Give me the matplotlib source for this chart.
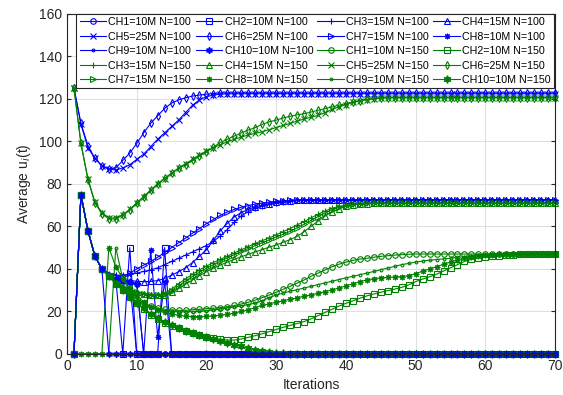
import matplotlib
matplotlib.use("Agg")
import matplotlib.pyplot as plt
import numpy as np

plt.rcParams['font.family'] = ['Liberation Sans', 'DejaVu Sans']

# Average u_i(t) per channel, iterations 1..70
# N = 100 (blue)
ch1_100 = [0, 75, 58, 46, 40, 36.5, 35, 34.5, 34, 33] + [0] * 60
ch2_100 = [0, 75, 58, 46, 40, 36.5, 35, 0, 50, 0, 0, 0, 0, 50, 0] + [0] * 55
ch3_100 = [0, 75, 58, 46, 40, 37.5, 37, 37, 37.5, 38,
           38.8, 39.5, 40.5, 42, 43.5, 45, 46.5, 48, 49.5, 51,
           53, 55.5, 58.5, 62, 65, 67, 68.5, 69.5, 70.3, 71,
           71.5, 71.9, 72.2] + [72.5] * 37
ch4_100 = [0, 75, 58, 46, 40, 37, 35.5, 35, 34.5, 34.2,
           34, 34.1, 34.5, 35.5, 37, 38.7, 40.5, 43, 46, 49,
           53.5, 58, 61.5, 64.5, 66.5, 68, 69.2, 70, 70.7, 71.3,
           71.8, 72.1, 72.3] + [72.5] * 37
ch5_100 = [125, 108, 97, 92, 88.5, 87, 86.5, 87.5, 89, 91.5,
           94, 97.5, 101, 104, 107, 110, 113.5, 117, 119.5, 121,
           121.8, 122.2] + [122.4] * 48
ch6_100 = [125, 108.5, 98, 92, 88.5, 87, 87.5, 91, 94.5, 99,
           104, 108.5, 112, 115.5, 118, 119.5, 120.5, 121.3, 121.8, 122.2,
           122.5] + [122.8] * 49
ch7_100 = [0, 75, 58, 46, 40, 37.5, 36.8, 36.6, 38, 40,
           41.8, 43.5, 45.5, 47.8, 50, 52.3, 54.5, 56.8, 59, 61.3,
           63.3, 65.2, 66.8, 68, 69, 69.8, 70.5, 71, 71.4, 71.8,
           72.1, 72.3] + [72.5] * 38
ch8_100 = [0, 75, 58, 46, 40, 36.5, 35, 34.5, 34, 33, 0, 49, 8, 34, 0] + [0] * 55
ch9_100 = [0, 75, 58, 46, 40, 36.5, 35, 34.5, 34] + [0] * 61
ch10_100 = [0, 75, 58, 46, 40] + [0] * 65

# N = 150 (green)
ch1_150 = [0, 75, 58, 46, 40, 36.5, 33, 30, 28, 26,
           24, 22.5, 21.5, 21, 20.7, 20.5, 20.5, 20.8, 21, 21.3,
           21.5, 21.8, 22.2, 22.8, 23.5, 24.3, 25.3, 26.5, 27.7, 29,
           30.4, 31.8, 33.3, 34.8, 36.5, 38, 39.5, 41, 42.2, 43.2,
           44, 44.6, 45, 45.5, 45.9, 46.2, 46.5, 46.7, 46.9] + [47] * 21
ch2_150 = [0, 75, 58, 46, 40, 36.5, 33, 30, 27, 24,
           21, 18.5, 16.5, 14.5, 13, 12, 11, 10, 9, 8,
           7.3, 6.8, 6.5, 6.5, 7, 7.8, 8.6, 9.5, 10.5, 11.5,
           12.5, 13.4, 14.3, 15.2, 16.5, 18, 19.5, 21, 22.5, 23.8,
           25, 26.2, 27.3, 28.2, 29, 29.8, 30.5, 31.3, 32.5, 34,
           35.2, 36.3, 37.5, 39, 40.5, 42, 43.5, 44.5, 45.2, 45.7,
           46, 46.3, 46.5, 46.7] + [47] * 6
ch3_150 = [0, 75, 58, 46, 40, 36.5, 33.5, 31.5, 30, 29,
           28.3, 27.8, 27.8, 28.5, 30.5, 33, 35.3, 37.5, 39.5, 41.3,
           43, 44.5, 46, 47.5, 49, 50.5, 52, 53.3, 54.6, 56,
           57.5, 59, 60.7, 62.3, 64, 65.7, 67.2, 68.5, 69.4, 70,
           70.4, 70.6] + [70.8] * 28
ch4_150 = [0, 75, 58, 46, 40, 36.5, 33.5, 31.5, 30, 29,
           28.3, 27.8, 27.5, 27.8, 29, 30.8, 32.8, 34.8, 36.8, 38.7,
           40.3, 41.8, 43.2, 44.5, 45.7, 46.9, 48, 49.1, 50.2, 51.3,
           52.5, 53.8, 55.3, 57.5, 60, 62.5, 64.8, 66.8, 68.3, 69.5,
           70.2, 70.5, 70.7] + [70.8] * 27
ch5_150 = [125, 99, 82.5, 71.5, 66.5, 64, 64, 65.5, 68, 71,
           74, 77, 80, 82.5, 85, 87.5, 89.5, 91.5, 93.5, 95.5,
           97, 98.5, 99.8, 101, 102, 103, 103.8, 104.5, 105.5, 106.5,
           107.5, 108.5, 109.5, 110.5, 111.3, 112.2, 113.5, 115, 116.2, 117.3,
           118.3, 119, 119.6, 120, 120.3] + [120.5] * 25
ch6_150 = [125, 99, 82, 71, 66, 63.5, 63.5, 65.3, 67.8, 71,
           74, 77, 80, 82.7, 85, 87.3, 89, 91, 93, 95,
           97.3, 99.5, 101, 102.5, 104, 105.3, 106.5, 108, 109.2, 110,
           111, 111.8, 112.5, 113, 113.8, 114.6, 115.4, 116.2, 117, 117.8,
           118.5, 119.2, 119.8, 120.2] + [120.5] * 26
ch7_150 = [0, 75, 58, 46, 40, 36.5, 33.5, 31.5, 30, 29,
           28.3, 27.8, 27.5, 28, 29.8, 32, 34.3, 36.5, 38.5, 40.3,
           42, 43.6, 45.2, 46.7, 48.2, 49.6, 51, 52.3, 53.6, 55,
           56.3, 57.7, 59.3, 61, 62.8, 64.6, 66.3, 67.8, 69, 69.8,
           70.3, 70.6] + [70.8] * 28
ch8_150 = [0, 0, 0, 0, 0, 50, 41, 35.5, 31, 27.5,
           24.5, 22, 20.5, 19.5, 18.8, 18.2, 17.8, 17.6, 17.6, 17.7,
           17.9, 18.2, 18.6, 19.2, 20, 20.8, 21.8, 22.8, 23.6, 24.3,
           25, 25.7, 26.4, 27.1, 27.8, 28.5, 29.3, 30.1, 31, 32,
           33, 34, 34.8, 35.4, 35.8, 36, 36.2, 36.4, 36.8, 37.8,
           38.9, 40, 41, 42.2, 43.2, 44.2, 45.2, 45.8, 46.2, 46.5,
           46.7] + [47] * 9
ch9_150 = [0, 0, 0, 0, 0, 0, 50, 35, 30, 26,
           23.5, 22, 21, 20.3, 20, 19.8, 19.8, 19.9, 20, 20.3,
           20.7, 21.1, 21.6, 22.1, 22.6, 23.2, 23.9, 25, 26.5, 27.7,
           28.6, 29.5, 30.2, 31, 31.8, 32.6, 33.4, 34.2, 35, 35.8,
           36.5, 37.3, 38, 38.8, 39.6, 40.4, 41.2, 42, 42.6, 43.2,
           43.7, 44.1, 44.4, 44.7, 45, 45.4, 45.8, 46.1, 46.4, 46.6,
           46.8] + [47] * 9
ch10_150 = [0, 75, 58, 46, 40, 36.5, 33, 30, 27, 24,
            21.5, 19, 17, 15, 13.5, 12, 11, 10, 9, 8,
            7.2, 6, 5, 4.3, 3.5, 2.7, 2, 1.4, 0.9, 0.5,
            0.3, 0.1] + [0] * 38

series_100 = [ch1_100, ch2_100, ch3_100, ch4_100, ch5_100,
              ch6_100, ch7_100, ch8_100, ch9_100, ch10_100]
series_150 = [ch1_150, ch2_150, ch3_150, ch4_150, ch5_150,
              ch6_150, ch7_150, ch8_150, ch9_150, ch10_150]
channel_sizes = ['10M', '10M', '15M', '15M', '25M', '25M', '15M', '10M', '10M', '10M']

# MATLAB-like markers: o s + ^ x d > * . hexagram
markers = ['o', 's', '+', '^', 'x', 'd', '>', (8, 2, 0), '.', (6, 1, 0)]

fig, ax = plt.subplots(figsize=(5.63, 3.95), dpi=100)
fig.subplots_adjust(left=0.119, right=0.986, top=0.965, bottom=0.104)

handles = []
for N, data, color in [(100, series_100, '#0000ff'), (150, series_150, '#008000')]:
    for i, y in enumerate(data):
        x = np.arange(1, len(y) + 1)
        face = color if i == 9 else 'none'
        size = 4
        z = 2
        if i == 9:
            size = 4.8 if N == 100 else 5.6
            z = 2.5 if N == 100 else 2.2
        h, = ax.plot(x, y, color=color, lw=0.8, marker=markers[i],
                     markersize=size, markerfacecolor=face, markeredgewidth=0.8,
                     clip_on=False, zorder=z,
                     label='CH%d=%s N=%d' % (i + 1, channel_sizes[i], N))
        handles.append(h)

ax.set_xlim(0, 70)
ax.set_ylim(0, 160)
ax.set_xticks(np.arange(0, 71, 10))
ax.set_yticks(np.arange(0, 161, 20))
ax.grid(True, color='#e0e0e0', lw=0.8)
ax.set_axisbelow(True)
ax.tick_params(direction='in', labelsize=10, colors='#262626', length=3,
               top=True, right=True)
for sp in ax.spines.values():
    sp.set_color('#262626')
    sp.set_linewidth(0.8)
ax.set_xlabel('Iterations', fontsize=10, color='#262626')
ax.set_ylabel('Average u$_i$(t)', fontsize=10, color='#262626')

# legend filled row by row, 4 columns
order = [r * 4 + c for c in range(4) for r in range(5)]
leg = ax.legend([handles[k] for k in order],
                [handles[k].get_label() for k in order],
                ncol=4, loc='upper right', bbox_to_anchor=(0.998, 1.0),
                borderaxespad=0.0, fontsize=7.7, handlelength=2.5,
                handletextpad=0.2, columnspacing=0.4, labelspacing=0.42,
                fancybox=False, framealpha=1, edgecolor='#262626',
                borderpad=0.3)
leg.get_frame().set_linewidth(0.8)
leg.set_zorder(5)

fig.savefig('out.png', dpi=100)
